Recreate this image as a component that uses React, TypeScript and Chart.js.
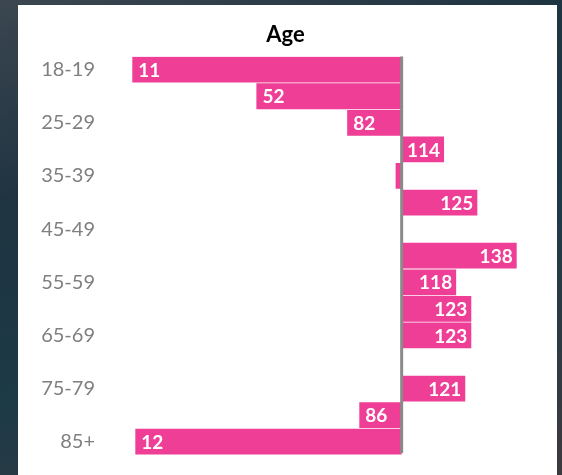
import { useEffect, useRef } from 'react';
import { Chart, registerables } from 'chart.js';

Chart.register(...registerables);

const categories = ['18-19', '20-24', '25-29', '30-34', '35-39', '40-44', '45-49', '50-54', '55-59', '60-64', '65-69', '70-74', '75-79', '80-84', '85+'];
const indexValues: (number | null)[] = [11, 52, 82, 114, 98, 125, null, 138, 118, 123, 123, null, 121, 86, 12];
const baseline = 100;
const xMin = 0;
const xMax = 150;
const titleText = 'Age';

const barColor = '#EE3E96';
const FONT = 'Lato, "Open Sans", sans-serif';

const labelPlugin = {
  id: 'barLabels',
  afterDatasetsDraw(chart: any) {
    const ctx = chart.ctx;
    const area = chart.chartArea;
    const xs = chart.scales.x;
    const bx = xs.getPixelForValue(baseline);
    ctx.save();
    ctx.strokeStyle = '#8a8a8a';
    ctx.lineWidth = 3;
    ctx.beginPath();
    ctx.moveTo(bx, area.top);
    ctx.lineTo(bx, area.bottom - 2);
    ctx.stroke();

    const meta = chart.getDatasetMeta(0);
    ctx.font = 'bold 19px ' + FONT;
    ctx.fillStyle = '#ffffff';
    ctx.textBaseline = 'middle';
    meta.data.forEach((bar: any, i: number) => {
      const v = indexValues[i];
      if (v == null) return;
      const p = bar.getProps(['x', 'base', 'y'], true);
      const left = Math.min(p.x, p.base);
      const right = Math.max(p.x, p.base);
      const text = String(v);
      const w = ctx.measureText(text).width;
      if (right - left < w + 8) return;
      if (v < baseline) {
        ctx.textAlign = 'left';
        ctx.fillText(text, left + 6, p.y + 1);
      } else {
        ctx.textAlign = 'right';
        ctx.fillText(text, right - 4, p.y + 1);
      }
    });
    ctx.restore();
  },
};

export default function App() {
  const ref = useRef<HTMLCanvasElement | null>(null);

  useEffect(() => {
    if (!ref.current) return;
    const chart = new Chart(ref.current, {
      type: 'bar',
      data: {
        labels: categories,
        datasets: [
          {
            data: indexValues.map((v) => (v == null ? null : [baseline, v])) as any,
            backgroundColor: barColor,
            borderWidth: 0,
            barPercentage: 0.97,
            categoryPercentage: 1,
          },
        ],
      },
      options: {
        indexAxis: 'y',
        animation: false,
        responsive: true,
        maintainAspectRatio: false,
        layout: { padding: { left: 0, right: 4, top: 0, bottom: 20 } },
        plugins: {
          legend: { display: false },
          tooltip: { enabled: false },
          title: {
            display: true,
            text: titleText,
            color: '#000000',
            font: { family: FONT, size: 22, weight: 'bold', lineHeight: 1.2 },
            padding: { top: 17, bottom: 8 },
          },
        },
        scales: {
          x: {
            display: false,
            min: xMin,
            max: xMax,
          },
          y: {
            grid: { display: false, drawTicks: false },
            border: { display: false },
            afterFit: (scale: any) => {
              scale.width = 81;
            },
            ticks: {
              autoSkip: false,
              padding: 4,
              color: '#7f7f7f',
              font: { family: FONT, size: 20 },
              callback: (_v: any, i: number) => (i % 2 === 0 ? categories[i] : ''),
            },
          },
        },
      },
      plugins: [labelPlugin],
    });
    return () => chart.destroy();
  }, []);

  return (
    <div
      style={{
        position: 'absolute',
        left: 0,
        top: 0,
        width: 562,
        height: 475,
        background: 'linear-gradient(160deg, #3b4650 0%, #1f3441 30%, #1d3a47 60%, #3d3a3f 100%)',
        overflow: 'hidden',
      }}
    >
      <div style={{ position: 'absolute', left: 18, top: 5, width: 539, height: 470, background: '#ffffff' }}>
        <canvas ref={ref} />
      </div>
    </div>
  );
}
